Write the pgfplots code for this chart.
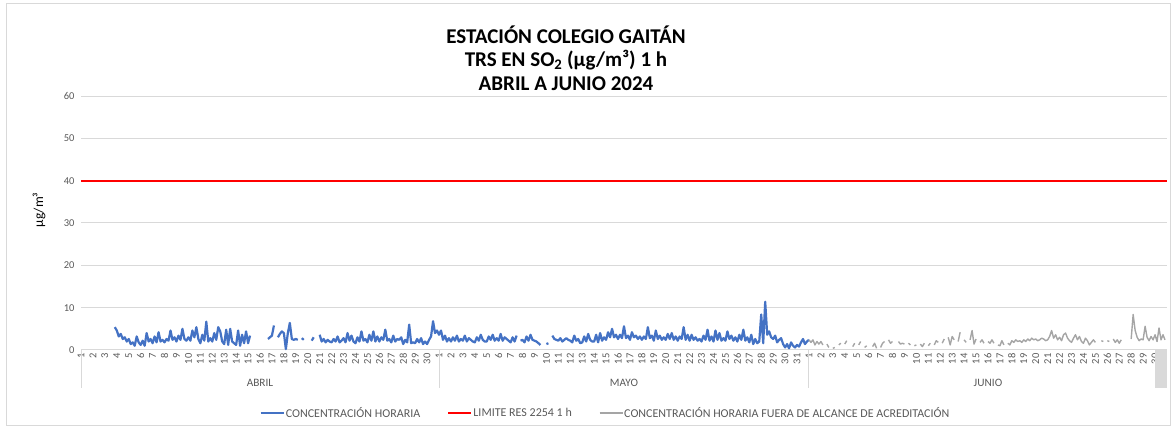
\documentclass[border=0pt]{standalone}
\usepackage{fontspec}
\setmainfont{Carlito}
\usepackage{pgfplots}
\pgfplotsset{compat=1.18}
\usepackage{pgfplotstable}
\definecolor{serblue}{HTML}{4472C4}
\definecolor{sergray}{HTML}{A5A5A5}
\definecolor{gridgray}{HTML}{D9D9D9}
\definecolor{txtgray}{HTML}{595959}

% hourly concentration, sampled every 4 h, from 1 April 00h (6 values per day)
\pgfplotstableread[header=false,row sep=\\]{
nan\\ nan\\ nan\\ nan\\ nan\\ nan\\
nan\\ nan\\ nan\\ nan\\ nan\\ nan\\
nan\\ nan\\ nan\\ nan\\ nan\\ 5.4\\
4.6\\ 3.2\\ 3.8\\ 2.6\\ 3.0\\ 2.0\\
2.6\\ 1.4\\ 1.8\\ 1.0\\ 3.2\\ 1.8\\
1.2\\ 2.2\\ 1.0\\ 4.0\\ 2.0\\ 2.6\\
1.6\\ 3.2\\ 1.8\\ 4.2\\ 2.0\\ 2.4\\
1.8\\ 2.6\\ 2.2\\ 4.6\\ 2.4\\ 3.0\\
2.0\\ 3.4\\ 2.4\\ 5.0\\ 2.6\\ 2.2\\
3.0\\ 2.2\\ 4.6\\ 3.0\\ 5.4\\ 2.6\\
1.6\\ 3.6\\ 2.2\\ 6.7\\ 2.0\\ 2.8\\
2.0\\ 4.0\\ 2.4\\ 5.4\\ 4.4\\ 2.0\\
1.4\\ 4.8\\ 1.2\\ 5.0\\ 2.0\\ 1.6\\
1.2\\ 4.6\\ 1.0\\ 3.6\\ 1.6\\ 4.4\\
1.6\\ 3.4\\ nan\\ nan\\ nan\\ nan\\
nan\\ nan\\ nan\\ nan\\ 2.6\\ 3.0\\
3.4\\ 5.8\\ nan\\ 3.0\\ 3.8\\ 4.4\\
4.0\\ 0.2\\ 4.0\\ 6.4\\ 2.6\\ 2.4\\
2.6\\ 2.4\\ nan\\ 2.8\\ 2.4\\ nan\\
2.6\\ nan\\ 2.2\\ 3.0\\ nan\\ nan\\
3.6\\ 2.0\\ 2.6\\ 1.8\\ 2.4\\ 2.0\\
1.8\\ 2.6\\ 2.0\\ 3.2\\ 1.8\\ 2.2\\
2.8\\ 1.8\\ 4.0\\ 2.2\\ 3.4\\ 2.0\\
1.6\\ 3.0\\ 2.0\\ 4.4\\ 2.2\\ 2.6\\
1.8\\ 3.6\\ 2.2\\ 4.4\\ 2.0\\ 3.2\\
2.0\\ 3.0\\ 2.4\\ 4.8\\ 2.2\\ 2.6\\
1.8\\ 3.4\\ 2.0\\ 2.6\\ 2.4\\ 3.0\\
1.4\\ 2.4\\ 1.8\\ 6.0\\ 1.6\\ 1.8\\
1.6\\ 2.6\\ 1.8\\ 2.8\\ 1.4\\ 2.0\\
1.4\\ 2.4\\ 3.2\\ 6.8\\ 4.0\\ 4.6\\
3.6\\ 4.6\\ 2.4\\ 3.4\\ 2.0\\ 2.8\\
2.0\\ 3.0\\ 2.2\\ 3.4\\ 2.0\\ 2.6\\
2.2\\ 3.4\\ 2.0\\ 2.8\\ 2.4\\ 2.0\\
1.8\\ 3.0\\ 2.2\\ 3.6\\ 2.4\\ 2.0\\
2.0\\ 3.2\\ 2.4\\ 3.6\\ 2.2\\ 2.8\\
2.2\\ 3.8\\ 2.2\\ 3.0\\ 2.6\\ 2.2\\
1.8\\ 3.0\\ 2.0\\ 3.4\\ nan\\ 2.2\\
2.4\\ 1.8\\ 3.2\\ 2.2\\ 3.6\\ 2.4\\
2.2\\ 2.0\\ 1.6\\ 1.2\\ nan\\ nan\\
1.4\\ 1.6\\ nan\\ 3.4\\ 2.6\\ 2.4\\
2.2\\ 2.8\\ 2.0\\ 2.4\\ 2.8\\ 2.4\\
2.2\\ 1.8\\ 3.4\\ 2.2\\ 2.6\\ 1.6\\
1.8\\ 3.2\\ 2.0\\ 3.8\\ 2.4\\ 2.0\\
2.0\\ 3.6\\ 1.8\\ 4.0\\ 2.2\\ 3.0\\
2.4\\ 4.2\\ 3.0\\ 5.0\\ 3.0\\ 3.6\\
2.6\\ 3.6\\ 2.8\\ 5.6\\ 2.8\\ 3.4\\
2.4\\ 4.2\\ 3.0\\ 3.4\\ 2.6\\ 3.2\\
2.4\\ 3.2\\ 2.6\\ 5.4\\ 2.8\\ 3.4\\
2.2\\ 4.6\\ 2.6\\ 3.4\\ 2.4\\ 3.0\\
2.4\\ 3.8\\ 2.6\\ 4.0\\ 2.4\\ 3.2\\
2.2\\ 3.2\\ 2.6\\ 5.4\\ 2.4\\ 3.6\\
2.2\\ 3.6\\ 2.4\\ 3.0\\ 2.2\\ 2.6\\
2.0\\ 3.4\\ 2.4\\ 4.8\\ 2.2\\ 3.2\\
2.0\\ 4.6\\ 2.4\\ 4.0\\ 2.2\\ 2.8\\
2.2\\ 4.4\\ 2.6\\ 3.4\\ 2.2\\ 3.0\\
2.0\\ 3.6\\ 2.4\\ 4.8\\ 2.2\\ 3.0\\
1.8\\ 3.6\\ 1.4\\ 2.6\\ 1.6\\ 2.0\\
8.4\\ 1.6\\ 11.4\\ 3.6\\ 4.4\\ 3.0\\
2.6\\ 3.4\\ 1.8\\ 2.4\\ 2.8\\ 1.4\\
0.6\\ 1.4\\ 0.4\\ 1.8\\ 1.0\\ 0.6\\
1.2\\ 0.8\\ 1.8\\ 2.6\\ 1.4\\ 2.0\\
2.4\\
}\bluedata

% out-of-scope hourly concentration, June (6 values per day)
\pgfplotstableread[header=false,row sep=\\]{
2.4\\ 1.8\\ 2.4\\ 1.2\\ 2.0\\ 1.4\\
2.0\\ 1.2\\ nan\\ 1.4\\ 0.6\\ nan\\
0.4\\ 0.6\\ nan\\ 1.2\\ 1.6\\ nan\\
1.4\\ 2.2\\ nan\\ nan\\ 0.8\\ 1.6\\
nan\\ 1.2\\ 2.0\\ nan\\ 0.6\\ 1.0\\
nan\\ nan\\ 0.8\\ 1.6\\ 0.4\\ nan\\
0.6\\ 1.6\\ 2.0\\ nan\\ 2.4\\ 1.6\\
2.0\\ nan\\ nan\\ 2.0\\ 1.4\\ 1.6\\
1.4\\ nan\\ 1.6\\ 1.2\\ nan\\ 1.0\\
1.2\\ nan\\ 1.4\\ 0.8\\ 1.6\\ nan\\
1.0\\ 1.6\\ nan\\ 1.2\\ 2.2\\ 1.8\\
nan\\ 1.6\\ 2.6\\ nan\\ 3.0\\ 1.2\\
3.2\\ 2.4\\ nan\\ 2.0\\ 4.2\\ nan\\
2.4\\ 1.8\\ nan\\ 2.4\\ 4.6\\ 1.4\\
2.6\\ nan\\ 1.8\\ 2.4\\ 1.6\\ nan\\
2.0\\ 1.6\\ 2.4\\ 1.6\\ nan\\ 1.2\\
1.0\\ 2.2\\ 1.2\\ nan\\ 1.6\\ 1.2\\
2.2\\ 1.8\\ 2.4\\ 2.0\\ 2.2\\ 1.8\\
2.4\\ 2.0\\ 2.6\\ 2.2\\ 2.8\\ 2.4\\
2.6\\ 2.2\\ 2.4\\ 2.8\\ 2.6\\ 2.2\\
2.4\\ 3.2\\ 4.6\\ 2.8\\ 3.6\\ 2.4\\
3.0\\ 2.2\\ 3.6\\ 4.0\\ 2.8\\ 2.2\\
1.8\\ 2.8\\ 3.6\\ 2.4\\ 3.2\\ 2.0\\
1.6\\ 2.8\\ 2.2\\ 1.2\\ 1.8\\ 2.4\\
1.8\\ nan\\ nan\\ 2.2\\ 2.0\\ nan\\
2.2\\ 2.0\\ nan\\ 2.6\\ 1.8\\ 2.4\\
1.6\\ 2.4\\ nan\\ nan\\ nan\\ nan\\
2.6\\ 8.4\\ 4.6\\ 3.0\\ 2.2\\ 2.6\\
2.4\\ 5.6\\ 3.0\\ 2.2\\ 3.2\\ 2.4\\
3.6\\ 2.0\\ 5.2\\ 2.4\\ 3.6\\ 2.4\\
}\graydata

\begin{document}
\begin{tikzpicture}
\useasboundingbox (0pt,0pt) rectangle (1171pt,428pt);
\draw[gridgray, line width=0.8pt] (6pt,3pt) rectangle (1170pt,425pt);
\node[font=\fontsize{21}{23.5}\selectfont\bfseries, align=center, text=black] at (566pt,370pt)
  {ESTACIÓN COLEGIO GAITÁN\\TRS EN SO\textsubscript{2} (µg/m³) 1 h\\ABRIL A JUNIO 2024};
\node[rotate=90, font=\fontsize{13.5}{15}\selectfont, text=black] at (39pt,218pt) {µg/m³};
\begin{axis}[
  at={(81pt,78pt)}, anchor=south west,
  scale only axis, width=1086pt, height=254pt,
  clip=false,
  xmin=0, xmax=91, ymin=0, ymax=60,
  unbounded coords=jump,
  ytick={0,10,...,60},
  ymajorgrids, grid style={gridgray, line width=1pt},
  axis line style={draw=none},
  tick style={draw=none},
  yticklabel pos=left,
  /pgf/number format/assume math mode=true,
  yticklabel style={anchor=east, font=\fontsize{10.5}{12}\selectfont, text=txtgray, xshift=-3pt},
  xtick={0,...,90},
  xticklabels={1,2,3,4,5,6,7,8,9,10,11,12,13,14,15,16,17,18,19,20,21,22,23,24,25,26,27,28,29,30,
    1,2,3,4,5,6,7,8,9,10,11,12,13,14,15,16,17,18,19,20,21,22,23,24,25,26,27,28,29,30,31,
    1,2,3,4,5,6,7,8,9,10,11,12,13,14,15,16,17,18,19,20,21,22,23,24,25,26,27,28,29,30},
  xticklabel style={rotate=90, anchor=east, font=\fontsize{10.5}{12}\selectfont, text=txtgray},
  legend columns=3,
  legend style={at={(0.4825,-0.248)}, anchor=center, draw=none, fill=none,
    font=\fontsize{12}{14}\selectfont, text=txtgray, inner sep=0pt,
    /tikz/every even column/.append style={column sep=26pt},
    nodes={inner xsep=1pt}},
  legend image code/.code={\draw[#1] (0pt,0pt) -- (23pt,0pt);},
]
\fill[gridgray] (axis cs:90,0) rectangle ([yshift=-38pt]axis cs:91,0);
\draw[gridgray, line width=1pt] (axis cs:0,0) -- ([yshift=-38pt]axis cs:0,0);
\draw[gridgray, line width=1pt] (axis cs:30,0) -- ([yshift=-38pt]axis cs:30,0);
\draw[gridgray, line width=1pt] (axis cs:61,0) -- ([yshift=-38pt]axis cs:61,0);
\addplot[serblue, line width=2.2pt, line join=round] table[x expr=\coordindex/6, y index=0] {\bluedata};
\addlegendentry{CONCENTRACIÓN HORARIA}
\addplot[red, line width=2.2pt] coordinates {(0,40) (91,40)};
\addlegendentry{LIMITE RES 2254 1 h\hspace{12pt}}
\addplot[sergray, line width=1.4pt, line join=round] table[x expr=61+\coordindex/6, y index=0] {\graydata};
\addlegendentry{CONCENTRACIÓN HORARIA FUERA DE ALCANCE DE ACREDITACIÓN}
\node[font=\fontsize{11.3}{13}\selectfont, text=txtgray] at ([yshift=-33pt]axis cs:15,0) {ABRIL};
\node[font=\fontsize{11.3}{13}\selectfont, text=txtgray] at ([yshift=-33pt]axis cs:45.5,0) {MAYO};
\node[font=\fontsize{11.3}{13}\selectfont, text=txtgray] at ([yshift=-33pt]axis cs:76,0) {JUNIO};
\end{axis}
\end{tikzpicture}
\end{document}
